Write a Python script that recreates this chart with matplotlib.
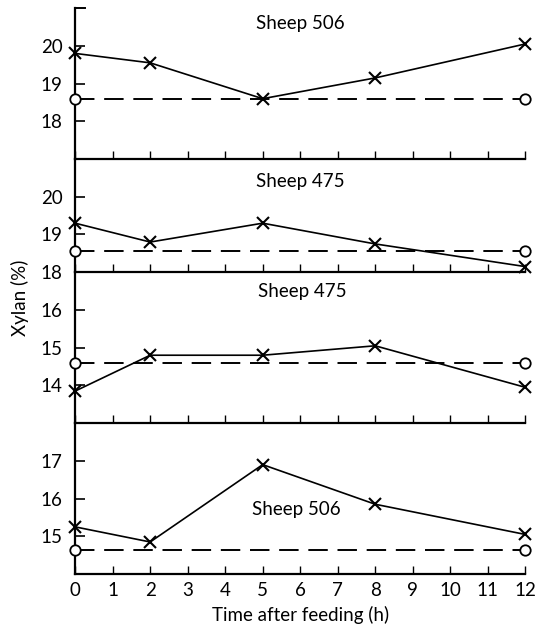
import matplotlib
matplotlib.use("Agg")
import matplotlib.pyplot as plt

plt.rcParams['font.family'] = ['Lato', 'DejaVu Sans']

times = [0, 2, 5, 8, 12]
ctrl_times = [0, 12]

panel_titles = ["Sheep 506", "Sheep 475", "Sheep 475", "Sheep 506"]
x_values = [
    [19.8, 19.55, 18.6, 19.15, 20.05],
    [19.3, 18.8, 19.3, 18.75, 18.15],
    [13.85, 14.8, 14.8, 15.05, 13.95],
    [15.25, 14.85, 16.9, 15.85, 15.05],
]
ctrl_values = [
    [18.6, 18.6],
    [18.55, 18.55],
    [14.6, 14.6],
    [14.65, 14.65],
]
y_limits = [(17, 21), (18, 21), (13, 17), (14, 18)]
y_ticks = [[18, 19, 20], [18, 19, 20], [14, 15, 16], [15, 16, 17]]
title_pos = [(6.0, 20.6), (6.0, 20.4), (6.05, 16.5), (5.9, 15.7)]
x_ticks = list(range(0, 13))

fig = plt.figure(figsize=(5.37, 6.26), dpi=100)
gs = fig.add_gridspec(4, 1, height_ratios=[4, 3, 4, 4], hspace=0,
                      left=0.14, right=0.978, top=0.987, bottom=0.083)

FS = 13.5
axes = []
for i in range(4):
    ax = fig.add_subplot(gs[i])
    axes.append(ax)
    ax.plot(ctrl_times, ctrl_values[i], color='black', lw=1.4,
            linestyle=(0, (10, 5)), marker='o', markersize=7.5,
            markerfacecolor='white', markeredgecolor='black', markeredgewidth=1.3,
            clip_on=False, zorder=3)
    ax.plot(times, x_values[i], color='black', lw=1.2, marker='x',
            markersize=9, markeredgewidth=1.5, clip_on=False, zorder=4)
    ax.set_xlim(0, 12)
    ax.set_ylim(*y_limits[i])
    ax.set_yticks(y_ticks[i])
    ax.set_xticks(x_ticks)
    ax.spines['top'].set_visible(False)
    ax.spines['right'].set_visible(False)
    ax.spines['left'].set_linewidth(1.6)
    ax.spines['bottom'].set_linewidth(1.6)
    ax.tick_params(axis='y', direction='in', length=7, width=1.2, labelsize=FS, pad=9)
    ax.tick_params(axis='x', direction='in', length=6, width=1.0, labelsize=FS, pad=6)
    if i < 3:
        ax.tick_params(axis='x', labelbottom=False)
    ax.text(title_pos[i][0], title_pos[i][1], panel_titles[i], fontsize=FS,
            ha='center', va='center')
    ax.set_facecolor('none')

# top cap tick on the first panel
axes[0].plot([0, 0.25], [21, 21], color='black', lw=1.4, clip_on=False)

axes[3].set_xlabel("Time after feeding (h)", fontsize=FS, labelpad=5)
fig.text(0.038, 0.524, "Xylan (%)", rotation=90, fontsize=FS, ha='center', va='center')

fig.savefig("out.png", dpi=100)
